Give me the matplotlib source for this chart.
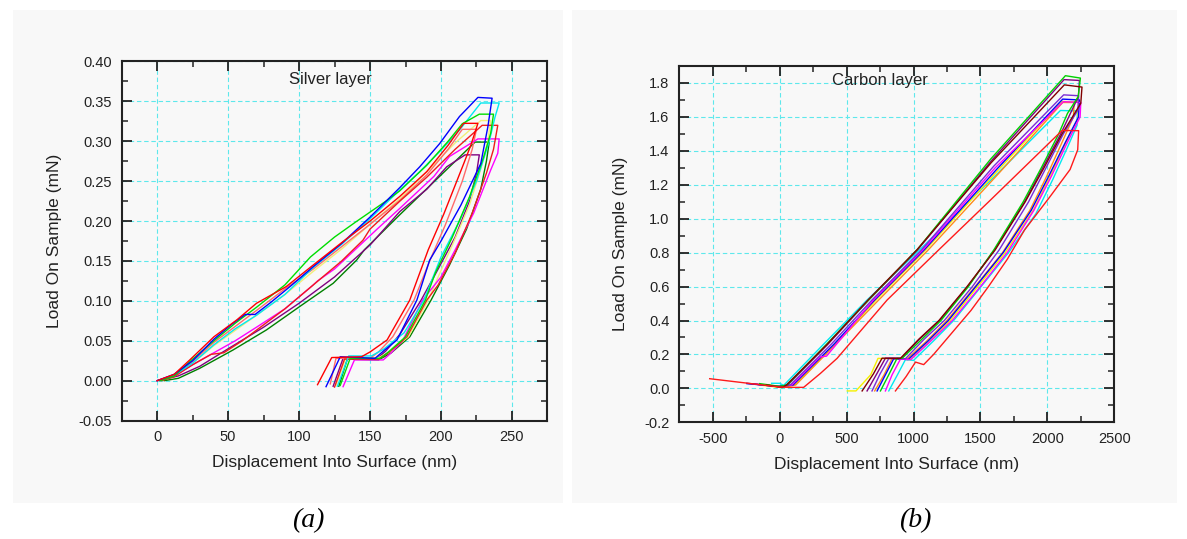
import matplotlib
matplotlib.use('Agg')
import matplotlib.pyplot as plt
from matplotlib.ticker import MultipleLocator, FormatStrFormatter
from matplotlib.patches import Rectangle

plt.rcParams['font.family'] = ['Liberation Sans', 'DejaVu Sans']
plt.rcParams['axes.unicode_minus'] = False

"(1) Silver layer curves: displacement (nm) and load (mN)"
ag_blue_x = [0, 12, 25, 40, 52, 62, 69, 80, 95, 110, 130, 150, 171, 185, 199, 213, 226, 236, 233, 228, 214, 200, 192, 183, 169, 160, 153.5, 129, 119]
ag_blue_y = [0, 0.008, 0.025, 0.052, 0.07, 0.083, 0.083, 0.098, 0.12, 0.143, 0.172, 0.205, 0.242, 0.268, 0.297, 0.331, 0.355, 0.354, 0.318, 0.272, 0.22, 0.175, 0.151, 0.101, 0.051, 0.038, 0.028, 0.030, -0.0075]

ag_cyan_x = [0, 12, 25, 40, 55, 70, 90, 110, 130, 150, 171, 185, 199, 213, 228, 241, 238, 234, 225, 213, 200, 188, 174, 160, 151, 135, 127]
ag_cyan_y = [0, 0.007, 0.022, 0.045, 0.065, 0.082, 0.108, 0.142, 0.171, 0.203, 0.239, 0.262, 0.287, 0.314, 0.348, 0.348, 0.33, 0.30, 0.25, 0.20, 0.155, 0.101, 0.06, 0.04, 0.031, 0.031, -0.007]

ag_green_x = [2, 12, 25, 40, 55, 70, 90, 108, 125, 140, 162, 171, 190, 205, 215, 227, 237, 235, 230, 220, 208, 196, 189, 175, 163, 157, 136, 129]
ag_green_y = [0, 0.006, 0.027, 0.05, 0.072, 0.092, 0.12, 0.155, 0.18, 0.199, 0.226, 0.238, 0.27, 0.3, 0.322, 0.334, 0.334, 0.31, 0.28, 0.23, 0.18, 0.135, 0.101, 0.055, 0.036, 0.028, 0.028, -0.006]

ag_redA_x = [0, 12, 23, 40, 56, 70, 91, 110, 130, 150, 171, 190, 205, 216, 226, 221, 216, 202, 191, 178, 162, 150, 144, 123, 113]
ag_redA_y = [0, 0.008, 0.026, 0.055, 0.076, 0.097, 0.118, 0.145, 0.173, 0.200, 0.231, 0.262, 0.295, 0.3225, 0.3225, 0.295, 0.272, 0.209, 0.164, 0.101, 0.051, 0.036, 0.030, 0.029, -0.005]

ag_redB_x = [3, 12, 25, 38, 47, 60, 75, 90, 110, 130, 145, 150, 171, 190, 210, 229, 240, 237, 232, 222, 210, 198, 190, 176, 163, 156, 132, 125]
ag_redB_y = [0, 0.005, 0.02, 0.033, 0.035, 0.05, 0.07, 0.09, 0.12, 0.15, 0.176, 0.19, 0.225, 0.255, 0.29, 0.32, 0.32, 0.29, 0.26, 0.21, 0.16, 0.12, 0.101, 0.055, 0.035, 0.027, 0.027, -0.008]

ag_yellow_x = [0, 12, 25, 40, 55, 70, 90, 110, 130, 150, 171, 190, 210, 228, 235, 233, 228, 220, 208, 198, 191, 177, 163, 155, 133, 126]
ag_yellow_y = [0, 0.006, 0.022, 0.044, 0.063, 0.082, 0.108, 0.137, 0.165, 0.196, 0.228, 0.262, 0.298, 0.326, 0.326, 0.3, 0.265, 0.22, 0.17, 0.13, 0.101, 0.055, 0.035, 0.028, 0.029, -0.006]

ag_magenta_x = [0, 12, 25, 40, 55, 70, 90, 110, 113, 125, 140, 155, 171, 195, 206, 226, 241, 240, 235, 223, 210, 200, 187, 173, 165, 159.3, 139, 131]
ag_magenta_y = [0, 0.006, 0.02, 0.035, 0.05, 0.067, 0.09, 0.12, 0.125, 0.14, 0.165, 0.19, 0.216, 0.256, 0.281, 0.303, 0.303, 0.285, 0.264, 0.21, 0.164, 0.13, 0.101, 0.05, 0.035, 0.026, 0.026, -0.0075]

ag_dkgreen_x = [5, 15, 30, 53.5, 77, 100.5, 124, 140.5, 146, 171, 199, 224, 234, 232, 228, 218, 206, 193, 178, 165, 156, 134, 128]
ag_dkgreen_y = [0, 0.003, 0.0155, 0.0385, 0.0636, 0.093, 0.122, 0.151, 0.164, 0.208, 0.256, 0.299, 0.299, 0.275, 0.24, 0.19, 0.145, 0.101, 0.055, 0.035, 0.026, 0.027, -0.007]

ag_purple_x = [0, 15, 30, 50, 75, 100, 125, 150, 171, 190, 204, 217, 227, 225, 220, 210, 198, 186, 171, 161, 155, 131, 124]
ag_purple_y = [0, 0.006, 0.018, 0.04, 0.067, 0.097, 0.13, 0.17, 0.212, 0.24, 0.268, 0.283, 0.283, 0.26, 0.225, 0.18, 0.14, 0.101, 0.058, 0.037, 0.028, 0.028, -0.007]

ag_salmon_x = [0, 12, 25, 40, 55, 70, 90, 110, 130, 150, 171, 190, 205, 215, 225, 222, 215, 203, 192, 181, 166, 156, 150, 126, 122]
ag_salmon_y = [0, 0.007, 0.024, 0.048, 0.068, 0.088, 0.115, 0.14, 0.168, 0.196, 0.226, 0.258, 0.29, 0.315, 0.315, 0.29, 0.25, 0.195, 0.15, 0.101, 0.055, 0.036, 0.028, 0.028, -0.004]

"(2) Carbon layer curves"
c_green_x = [-150, 0, 55, 350, 665, 1030, 1575, 2135, 2247, 2231, 2150, 2085, 1955, 1820, 1600, 1410, 1205, 1050, 915, 877, 815, 753]
c_green_y = [0.028, 0.012, 0.02, 0.26, 0.521, 0.82, 1.35, 1.843, 1.829, 1.72, 1.62, 1.5, 1.3, 1.1, 0.816, 0.6, 0.4, 0.28, 0.177, 0.177, 0.08, -0.015]

c_brown_x = [-100, 20, 50, 355, 660, 1025, 1580, 2127, 2259, 2250, 2110, 1975, 1835, 1610, 1400, 1190, 1040, 902, 765, 700, 616]
c_brown_y = [0.02, 0.005, 0.02, 0.26, 0.521, 0.816, 1.33, 1.789, 1.776, 1.68, 1.5, 1.3, 1.1, 0.816, 0.6, 0.4, 0.29, 0.177, 0.178, 0.085, -0.015]

c_purple_x = [-245, 0, 60, 360, 665, 1030, 1580, 2125, 2240, 2232, 2100, 1965, 1830, 1605, 1405, 1195, 1045, 910, 790, 725, 653]
c_purple_y = [0.03, 0.01, 0.02, 0.26, 0.521, 0.816, 1.34, 1.82, 1.815, 1.72, 1.5, 1.3, 1.1, 0.816, 0.6, 0.4, 0.29, 0.178, 0.178, 0.085, -0.015]

c_violet_x = [-200, 0, 80, 385, 690, 1060, 1600, 2122, 2234, 2228, 2120, 1990, 1860, 1640, 1440, 1230, 1080, 940, 815, 750, 690]
c_violet_y = [0.026, 0.01, 0.02, 0.26, 0.521, 0.816, 1.31, 1.73, 1.725, 1.64, 1.5, 1.3, 1.1, 0.816, 0.6, 0.4, 0.29, 0.175, 0.176, 0.085, -0.015]

c_magenta_x = [-180, 0, 90, 300, 350, 700, 1070, 1610, 2120, 2250, 2245, 2150, 2030, 1900, 1700, 1500, 1290, 1130, 980, 902, 840, 790]
c_magenta_y = [0.025, 0.01, 0.02, 0.185, 0.19, 0.521, 0.816, 1.30, 1.69, 1.685, 1.6, 1.45, 1.25, 1.05, 0.8, 0.6, 0.4, 0.28, 0.17, 0.172, 0.08, -0.015]

c_blue_x = [-245, -20, 100, 405, 710, 1080, 1620, 2115, 2240, 2233, 2135, 2010, 1880, 1670, 1465, 1260, 1110, 960, 852, 790, 728]
c_blue_y = [0.028, 0.012, 0.02, 0.26, 0.521, 0.816, 1.29, 1.705, 1.70, 1.6, 1.45, 1.25, 1.05, 0.8, 0.6, 0.4, 0.28, 0.17, 0.175, 0.08, -0.015]

c_yellow_x = [-150, 10, 110, 415, 720, 1090, 1625, 2110, 2234, 2228, 2140, 2020, 1895, 1685, 1480, 1275, 1125, 975, 735, 680, 570, 505]
c_yellow_y = [0.02, 0.005, 0.02, 0.26, 0.521, 0.816, 1.28, 1.691, 1.688, 1.59, 1.45, 1.25, 1.05, 0.8, 0.6, 0.4, 0.28, 0.17, 0.177, 0.08, -0.015, -0.015]

c_orange_x = [-80, 10, 120, 430, 740, 1110, 1640, 2115, 2200, 2195, 2110, 1995, 1870, 1665, 1460, 1250, 1100, 950, 840, 780, 710]
c_orange_y = [0.02, 0.006, 0.02, 0.27, 0.521, 0.816, 1.27, 1.685, 1.685, 1.6, 1.45, 1.25, 1.05, 0.8, 0.6, 0.4, 0.28, 0.172, 0.176, 0.08, -0.015]

c_cyan_x = [-60, 0, 30, 340, 653, 1045, 1620, 2098, 2225, 2222, 2150, 2040, 1915, 1710, 1505, 1300, 1150, 1000, 940, 880, 815]
c_cyan_y = [0.03, 0.03, 0.018, 0.27, 0.521, 0.816, 1.26, 1.638, 1.635, 1.55, 1.42, 1.23, 1.03, 0.8, 0.6, 0.4, 0.28, 0.165, 0.17, 0.08, -0.015]

c_red_x = [-523, 0, 80, 179, 304, 429, 803, 1188, 1575, 2110, 2234, 2227, 2170, 2020, 1830, 1700, 1560, 1430, 1290, 1150, 1076, 1015, 945, 865]
c_red_y = [0.057, 0.008, 0.006, 0.006, 0.088, 0.177, 0.521, 0.816, 1.11, 1.52, 1.519, 1.406, 1.29, 1.13, 0.934, 0.76, 0.6, 0.46, 0.33, 0.2, 0.14, 0.155, 0.07, -0.015]

silver_curves = [(ag_dkgreen_x, ag_dkgreen_y, '#008000'),
                 (ag_purple_x, ag_purple_y, '#800080'),
                 (ag_yellow_x, ag_yellow_y, '#f2ee7a'),
                 (ag_salmon_x, ag_salmon_y, '#ff6a6a'),
                 (ag_magenta_x, ag_magenta_y, '#ff00ff'),
                 (ag_redB_x, ag_redB_y, '#ee1c1c'),
                 (ag_cyan_x, ag_cyan_y, '#00e8f0'),
                 (ag_green_x, ag_green_y, '#00dd00'),
                 (ag_blue_x, ag_blue_y, '#0000ff'),
                 (ag_redA_x, ag_redA_y, '#ff0000')]

carbon_curves = [(c_cyan_x, c_cyan_y, '#00e8f0'),
                 (c_yellow_x, c_yellow_y, '#f5f000'),
                 (c_orange_x, c_orange_y, '#ff8c1a'),
                 (c_blue_x, c_blue_y, '#0000ff'),
                 (c_magenta_x, c_magenta_y, '#ff00ff'),
                 (c_violet_x, c_violet_y, '#7a2bd6'),
                 (c_purple_x, c_purple_y, '#800080'),
                 (c_green_x, c_green_y, '#00d000'),
                 (c_brown_x, c_brown_y, '#800000'),
                 (c_red_x, c_red_y, '#ff1a1a')]

"(3) Figure"
fig = plt.figure(figsize=(11.87, 5.39), dpi=100)

# faint scanned background of the two panels
fig.patches.append(Rectangle((13/1187, 36/539), 550/1187, 493/539, transform=fig.transFigure,
                             facecolor='#f8f8f8', edgecolor='none', zorder=-10))
fig.patches.append(Rectangle((572/1187, 36/539), 605/1187, 493/539, transform=fig.transFigure,
                             facecolor='#f8f8f8', edgecolor='none', zorder=-10))

ax1 = fig.add_axes([0.1025, 0.2197, 0.3587, 0.6662])
ax2 = fig.add_axes([0.5723, 0.2165, 0.3664, 0.6610])


def style_axis(ax):
    ax.set_facecolor('none')
    for sp in ax.spines.values():
        sp.set_linewidth(1.5)
        sp.set_color('#222222')
    ax.tick_params(which='both', direction='in', top=True, right=True, color='#222222')
    ax.tick_params(which='major', length=7, width=1.3, labelsize=10.5, pad=7, labelcolor='#222222')
    ax.tick_params(which='minor', length=4, width=1.1)
    ax.grid(True, which='major', color='#5ee8ec', linestyle=(0, (4, 2.5)), linewidth=0.8)
    ax.set_axisbelow(True)


for x, y, c in silver_curves:
    ax1.plot(x, y, color=c, linewidth=1.0)
ax1.set_xlim(-25, 275)
ax1.set_ylim(-0.05, 0.40)
ax1.xaxis.set_major_locator(MultipleLocator(50))
ax1.xaxis.set_minor_locator(MultipleLocator(25))
ax1.yaxis.set_major_locator(MultipleLocator(0.05))
ax1.yaxis.set_minor_locator(MultipleLocator(0.025))
ax1.yaxis.set_major_formatter(FormatStrFormatter('%.2f'))
style_axis(ax1)
ax1.set_xlabel('Displacement Into Surface (nm)', fontsize=12.5, color='#222222', labelpad=8)
ax1.set_ylabel('Load On Sample (mN)', fontsize=12.5, color='#222222', labelpad=12)
ax1.text(122, 0.377, 'Silver layer', fontsize=12, ha='center', va='center', color='#222222')

for x, y, c in carbon_curves:
    ax2.plot(x, y, color=c, linewidth=1.0)
ax2.set_xlim(-750, 2500)
ax2.set_ylim(-0.2, 1.9)
ax2.xaxis.set_major_locator(MultipleLocator(500))
ax2.xaxis.set_minor_locator(MultipleLocator(250))
ax2.yaxis.set_major_locator(MultipleLocator(0.2))
ax2.yaxis.set_minor_locator(MultipleLocator(0.1))
ax2.yaxis.set_major_formatter(FormatStrFormatter('%.1f'))
style_axis(ax2)
ax2.set_xlabel('Displacement Into Surface (nm)', fontsize=12.5, color='#222222', labelpad=8)
ax2.set_ylabel('Load On Sample (mN)', fontsize=12.5, color='#222222', labelpad=12)
ax2.text(750, 1.815, 'Carbon layer', fontsize=12, ha='center', va='center', color='#222222')

# panel captions
fig.text(308/1187, 1 - 521/539, '(a)', fontsize=20, style='italic', family='Liberation Serif',
         ha='center', va='center')
fig.text(915/1187, 1 - 521/539, '(b)', fontsize=20, style='italic', family='Liberation Serif',
         ha='center', va='center')

plt.savefig('out.png', dpi=100)
